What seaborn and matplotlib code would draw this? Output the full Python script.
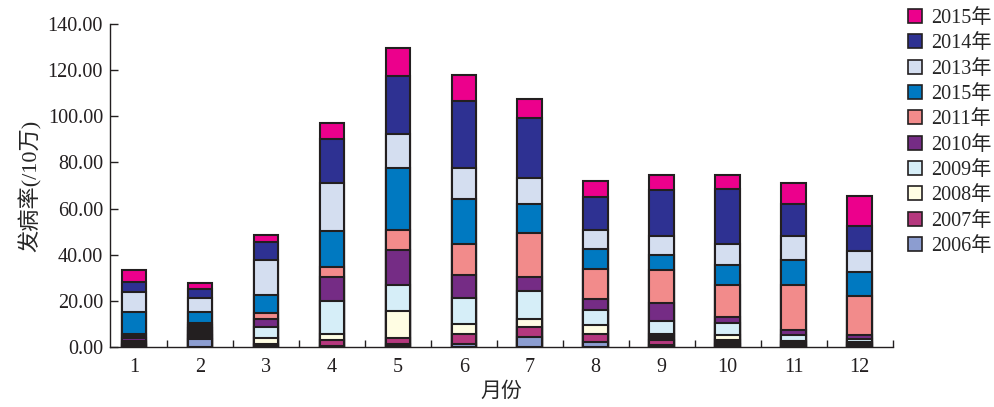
import matplotlib
matplotlib.use("Agg")
import matplotlib.pyplot as plt
import numpy as np
import pandas as pd
import seaborn as sns
from matplotlib.patches import Patch
from matplotlib.ticker import FixedLocator, FormatStrFormatter

MONTHS = [str(m) for m in range(1, 13)]
# stacking order, bottom to top (labels as printed in the source legend)
SERIES = ["2006年", "2007年", "2008年", "2009年", "2010年",
          "2011年", "2015年", "2013年", "2014年", "2015年"]

Y2006 = [0.8, 3.6, 0.8, 0.5, 1.5, 1.5, 4.3, 2.2, 1.0, 1.5, 1.0, 0.8]
Y2007 = [0.7, 1.5, 0.7, 2.5, 2.4, 4.0, 4.4, 3.6, 1.9, 1.7, 1.0, 0.8]
Y2008 = [0.7, 2.0, 2.2, 2.8, 11.7, 4.6, 3.4, 3.6, 2.6, 1.9, 0.5, 0.6]
Y2009 = [0.5, 1.3, 4.8, 14.0, 11.4, 11.1, 12.2, 6.8, 5.8, 5.3, 2.5, 1.4]
Y2010 = [1.0, 1.0, 3.8, 10.7, 14.9, 10.2, 6.0, 4.5, 7.9, 2.6, 2.5, 1.8]
Y2011 = [1.8, 1.0, 2.4, 4.1, 9.0, 13.1, 19.1, 13.3, 14.0, 14.0, 19.2, 16.7]
Y2012 = [9.5, 4.8, 8.0, 15.6, 26.7, 19.8, 12.8, 8.3, 6.5, 8.4, 10.9, 10.4]
Y2013 = [8.8, 6.0, 14.9, 20.9, 14.9, 13.3, 11.2, 8.6, 8.3, 9.4, 10.4, 9.1]
Y2014 = [4.4, 4.1, 7.9, 18.9, 24.8, 28.9, 26.0, 14.1, 19.9, 23.6, 14.2, 10.7]
Y2015 = [5.3, 2.6, 3.0, 7.0, 12.5, 11.2, 8.3, 6.9, 6.5, 6.0, 8.9, 13.0]
VALUES = [Y2006, Y2007, Y2008, Y2009, Y2010, Y2011, Y2012, Y2013, Y2014, Y2015]

COLORS = ["#8C9DD0", "#B5387E", "#FFFDE3", "#D6EEF8", "#752C85",
          "#F28B8B", "#0079C1", "#D4DEF0", "#2E3192", "#EC008C"]
EDGE = "#231F20"
# thin segments that print as solid dark blocks in the source (month idx, series idx)
DARK_CELLS = {(0, 0), (0, 2), (0, 5), (1, 1), (1, 2), (1, 3), (1, 4), (1, 5),
              (2, 0), (2, 1), (3, 0), (4, 0), (8, 2), (9, 0), (9, 1),
              (10, 0), (10, 1), (10, 2), (11, 0), (11, 1)}

sns.set_style("ticks")
plt.rcParams["font.family"] = ["Liberation Serif", "Noto Sans CJK SC"]

fig = plt.figure(figsize=(9.94, 4.07), dpi=100)
ax = fig.add_axes([0.1107, 0.1474, 0.7873, 0.7936])

cum = np.cumsum(np.array(VALUES), axis=0)
# draw cumulative layers from the top down so lower layers cover the upper ones
for k in range(len(SERIES) - 1, -1, -1):
    df = pd.DataFrame({"month": MONTHS, "value": cum[k]})
    n_before = len(ax.patches)
    sns.barplot(data=df, x="month", y="value", color=COLORS[k], saturation=1,
                edgecolor=EDGE, linewidth=1.5, width=0.37, errorbar=None, ax=ax)
    for i, p in enumerate(ax.patches[n_before:]):
        if (i, k) in DARK_CELLS:
            p.set_facecolor(EDGE)

ax.set_xlim(-0.36, 11.5)
ax.set_ylim(0, 140)
ax.yaxis.set_major_locator(FixedLocator(np.arange(0, 141, 20)))
ax.yaxis.set_major_formatter(FormatStrFormatter("%.2f"))
ax.xaxis.set_minor_locator(FixedLocator(np.arange(0.5, 11.6, 1)))
ax.tick_params(axis="y", direction="in", length=6, width=1, labelsize=14.5,
               pad=5, colors="#231F20")
ax.tick_params(axis="x", which="major", length=0, labelsize=14.5, pad=8, colors="#231F20")
ax.tick_params(axis="x", which="minor", direction="in", length=5, width=1, color="#231F20")
for s in ["top", "right"]:
    ax.spines[s].set_visible(False)
for s in ["left", "bottom"]:
    ax.spines[s].set_color("#231F20")
    ax.spines[s].set_linewidth(1)

ax.set_xlabel("月份", fontsize=15, labelpad=4)
ax.set_ylabel("发病率(/10万)", fontsize=16, labelpad=4)

handles = [Patch(facecolor=COLORS[k], edgecolor=EDGE, linewidth=1.2, label=SERIES[k])
           for k in range(len(SERIES) - 1, -1, -1)]
fig.legend(handles=handles, loc="upper left", bbox_to_anchor=(0.905, 0.998),
           frameon=False, fontsize=14.5, handlelength=0.7, handleheight=0.7,
           handletextpad=0.45, labelspacing=0.31, borderaxespad=0)

fig.savefig("out.png", dpi=100)
